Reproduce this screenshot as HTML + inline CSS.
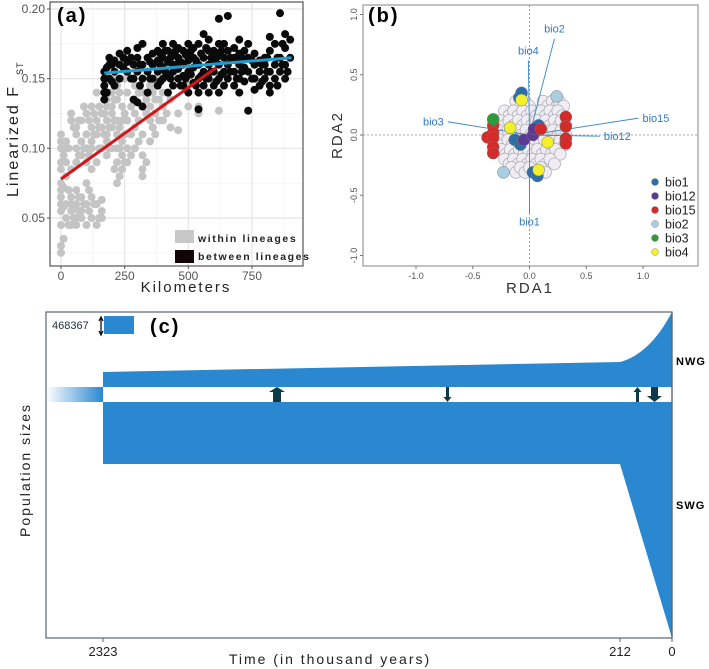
<!DOCTYPE html>
<html><head><meta charset="utf-8"><style>
html,body{margin:0;padding:0;background:#fff;}
svg{display:block;font-family:"Liberation Sans",sans-serif;}
</style></head><body>
<svg id="fig" width="709" height="669" viewBox="0 0 709 669" xmlns="http://www.w3.org/2000/svg">
<g id="pa"></g>
<g id="pb"></g>
<g id="pc"></g>
</svg>
<script>
// ---------- Panel (a) data ----------
const withinKm = [0,20,40,60,80,100,120,140,160,180,200,220,240,260,290,320,350,370,400,430,460,500,540,620,
 10,30,50,70,90,110,130,150,170,190,210,230,250,275,305,335,360,385,415];
const withinFst = [
 [0.025,0.03,0.045,0.055,0.06,0.065,0.07,0.075,0.085,0.09,0.1,0.105,0.11],
 [0.05,0.06,0.08,0.09,0.1,0.105],
 [0.045,0.055,0.06,0.065,0.085,0.12,0.125],
 [0.045,0.05,0.06,0.07,0.09,0.1,0.11,0.115],
 [0.05,0.055,0.065,0.095,0.105,0.12],
 [0.045,0.06,0.075,0.09,0.1,0.11,0.125],
 [0.05,0.065,0.085,0.1,0.105,0.115,0.13],
 [0.045,0.06,0.09,0.11,0.12,0.14],
 [0.05,0.055,0.063,0.1,0.115,0.125],
 [0.095,0.105,0.11,0.12,0.13,0.135,0.15],
 [0.1,0.115,0.125,0.13,0.14],
 [0.075,0.09,0.1,0.11,0.12,0.135,0.145],
 [0.085,0.095,0.105,0.12,0.13],
 [0.09,0.1,0.12,0.14],
 [0.1,0.115,0.125,0.135,0.145],
 [0.08,0.085,0.095,0.11,0.14,0.15],
 [0.105,0.12,0.13,0.14,0.145],
 [0.11,0.125,0.135,0.145,0.15],
 [0.12,0.13,0.14],
 [0.115,0.135],
 [0.113,0.125],
 [0.13,0.14,0.145],
 [0.125,0.13],
 [0.127,0.15],
 [0.035,0.058,0.072,0.095],
 [0.045,0.07,0.1],
 [0.05,0.058,0.115],
 [0.055,0.065,0.095,0.12],
 [0.06,0.1,0.13],
 [0.055,0.07,0.095,0.12],
 [0.06,0.11,0.125],
 [0.05,0.1,0.115,0.13],
 [0.11,0.125,0.14],
 [0.1,0.115,0.14],
 [0.085,0.12,0.135,0.15],
 [0.08,0.1,0.115,0.14],
 [0.09,0.11,0.125,0.15],
 [0.095,0.11,0.13],
 [0.105,0.12,0.14],
 [0.09,0.125,0.135],
 [0.115,0.14],
 [0.12,0.135],
 [0.125,0.14]
];
const betweenKm = [170,190,210,230,260,285,300,320,340,360,380,400,420,440,460,480,500,520,540,560,580,600,620,640,655,680,700,720,735,760,780,800,820,840,860,880,900,
 180,200,245,275,310,350,390,410,430,450,470,490,510,530,550,570,590,610,630,665,690,710,750,790,810,850,870,890];
const betweenFst = [
 [0.135,0.14,0.145,0.15,0.155],[0.15,0.16,0.165],[0.145,0.155,0.163],[0.15,0.16,0.168],
 [0.155,0.162,0.17],[0.135,0.15,0.16],[0.133,0.155,0.165,0.172],[0.13,0.15,0.16,0.175],
 [0.14,0.155,0.165],[0.15,0.16,0.168],[0.145,0.155,0.163,0.17],[0.15,0.158,0.165,0.175],
 [0.14,0.152,0.162,0.17],[0.145,0.155,0.16,0.168,0.175],[0.15,0.157,0.165,0.172],
 [0.145,0.152,0.16,0.17],[0.14,0.155,0.163,0.168,0.175],[0.147,0.158,0.165,0.172],
 [0.128,0.14,0.15,0.16,0.175],[0.145,0.155,0.165,0.182],[0.14,0.15,0.16,0.17,0.178],
 [0.145,0.155,0.163,0.17],[0.14,0.15,0.16,0.168,0.175,0.193],[0.145,0.155,0.165,0.175],
 [0.15,0.16,0.17,0.195],[0.145,0.155,0.165,0.172],[0.14,0.15,0.16,0.168,0.178],
 [0.148,0.158,0.17],[0.127,0.155,0.165,0.175],[0.142,0.15,0.16,0.168],[0.145,0.155,0.163],
 [0.15,0.16,0.165],[0.14,0.145,0.155,0.17,0.18],[0.15,0.16,0.175],[0.155,0.165,0.197],
 [0.15,0.16,0.172,0.182],[0.165,0.178],
 [0.14,0.158],[0.148,0.16],[0.158,0.165],[0.15,0.165],[0.145,0.16],[0.15,0.162],[0.148,0.16,0.168],
 [0.155,0.17],[0.15,0.165],[0.16,0.17],[0.145,0.162],[0.15,0.167],[0.153,0.17],[0.145,0.163],
 [0.152,0.168],[0.15,0.172],[0.155,0.165],[0.148,0.165],[0.153,0.17],[0.155,0.165],[0.15,0.163],
 [0.155,0.165],[0.15,0.163],[0.148,0.16],[0.155,0.165],[0.145,0.165],[0.16,0.175],[0.155]
];
const withinFitKm = [0,610];
const withinFitFst = [0.078,0.158];
const betweenFitKm = [170,905];
const betweenFitFst = [0.154,0.165];
const aXTicks = [0,250,500,750];
const aYTicks = [0.05,0.10,0.15,0.20];
const aYTickLabels = ["0.05","0.10","0.15","0.20"];

// ---------- Panel (b) data ----------
const cloudRows = [0.28,0.2,0.12,0.04,-0.04,-0.12,-0.2,-0.27];
const cloudCols = [
 [-0.12,-0.04,0.12,0.2,0.26],
 [-0.22,-0.14,-0.06,0.02,0.1,0.18,0.25],
 [-0.26,-0.18,-0.1,-0.02,0.06,0.14,0.22,0.28],
 [-0.27,-0.19,-0.11,-0.03,0.05,0.13,0.21,0.28],
 [-0.27,-0.19,-0.11,-0.03,0.05,0.13,0.21,0.27],
 [-0.25,-0.17,-0.09,-0.01,0.07,0.15,0.23],
 [-0.22,-0.14,-0.06,0.02,0.1,0.18],
 [-0.16,-0.08,0.0,0.1]
];
const bioNames = ["bio1","bio12","bio15","bio2","bio3","bio4"];
const bioColors = ["#2b6ea8","#5c3a92","#d42a2a","#a9cde3","#2e9a3a","#f3f02a"];
const bioX = [
 [-0.09,-0.07,-0.13,-0.08,0.08,0.03,0.07],
 [-0.05,0.03,0.04],
 [-0.32,-0.32,-0.37,-0.32,-0.32,-0.32,0.32,0.32,0.32,0.32,0.1],
 [0.24,-0.23],
 [-0.32],
 [-0.07,-0.17,0.16,0.08]
];
const bioY = [
 [0.31,0.35,-0.04,-0.08,0.08,-0.31,-0.34],
 [-0.04,0.0,0.05],
 [0.08,0.02,-0.02,-0.02,-0.1,-0.15,0.15,0.07,-0.03,-0.07,0.05],
 [0.32,-0.31],
 [0.13],
 [0.29,0.06,-0.06,-0.29]
];
const vecNames = ["bio2","bio4","bio3","bio15","bio12","bio1"];
const vecX = [0.22,-0.01,-0.72,0.96,0.62,0.0];
const vecY = [0.8,0.62,0.11,0.14,-0.01,-0.65];
const bTicks = [-1.0,-0.5,0.0,0.5,1.0];
const bTickLabels = ["-1.0","-0.5","0.0","0.5","1.0"];

// ---------- Panel (c) data ----------
const cTickTimes = [2323,212,0];
const nwgTop = [372,362,312];
const swgBottom = [464,464,638];

const NS="http://www.w3.org/2000/svg";
function el(parent,tag,attrs,text){const e=document.createElementNS(NS,tag);for(const k in attrs)e.setAttribute(k,attrs[k]);if(text!==undefined)e.textContent=text;parent.appendChild(e);return e;}

// ===== Panel A =====
const pa=document.getElementById('pa');
const xA=v=>61+v*(191/750);
const yA=v=>9+(0.20-v)*(209/0.15);
const aL=50,aR=303,aT=2,aB=266;
const bgA=el(pa,'rect',{x:aL,y:aT,width:aR-aL,height:aB-aT,fill:'#fff'});


[125,375,625,875].forEach(v=>{if(xA(v)<aR)el(pa,'line',{x1:xA(v),x2:xA(v),y1:aT,y2:aB,stroke:'#f3f3f3','stroke-width':0.8});});
[0.025,0.075,0.125,0.175].forEach(v=>el(pa,'line',{x1:aL,x2:aR,y1:yA(v),y2:yA(v),stroke:'#f3f3f3','stroke-width':0.8}));
aXTicks.forEach(v=>el(pa,'line',{x1:xA(v),x2:xA(v),y1:aT,y2:aB,stroke:'#e4e4e4','stroke-width':1.2}));
aYTicks.forEach(v=>el(pa,'line',{x1:aL,x2:aR,y1:yA(v),y2:yA(v),stroke:'#e4e4e4','stroke-width':1.2}));
withinKm.forEach((k,i)=>withinFst[i].forEach(f=>{
  const c=el(pa,'circle',{cx:xA(k),cy:yA(f),r:4,fill:'#c4c4c4'});
  
  
}));
betweenKm.forEach((k,i)=>betweenFst[i].forEach(f=>{
  const c=el(pa,'circle',{cx:xA(k),cy:yA(f),r:4,fill:'#0a0a0a'});
  
  
}));
const rl=el(pa,'line',{x1:xA(withinFitKm[0]),y1:yA(withinFitFst[0]),x2:xA(withinFitKm[1]),y2:yA(withinFitFst[1]),stroke:'#d0161b','stroke-width':3});


const bl=el(pa,'line',{x1:xA(betweenFitKm[0]),y1:yA(betweenFitFst[0]),x2:xA(betweenFitKm[1]),y2:yA(betweenFitFst[1]),stroke:'#1e9cd0','stroke-width':3});


el(pa,'rect',{x:aL,y:aT,width:aR-aL,height:aB-aT,fill:'none',stroke:'#555','stroke-width':1.2});
aXTicks.forEach(v=>{el(pa,'line',{x1:xA(v),x2:xA(v),y1:aB,y2:aB+3,stroke:'#555'});
  const t=el(pa,'text',{x:xA(v),y:aB+14,'font-size':12,fill:'#555','text-anchor':'middle'},String(v));
  
  });
aYTicks.forEach((v,i)=>{el(pa,'line',{x1:aL-3,x2:aL,y1:yA(v),y2:yA(v),stroke:'#555'});
  const t=el(pa,'text',{x:aL-5,y:yA(v)+4,'font-size':12,fill:'#555','text-anchor':'end'},aYTickLabels[i]);
  
  });
</script>
<script>
(function(){
const pa=document.getElementById('pa');
pa.insertAdjacentHTML('beforeend',`
<text x="57" y="22" font-size="20" font-weight="bold" letter-spacing="2">(a)</text>
<rect x="175" y="230" width="19" height="13" fill="#c8c8c8"/>
<rect x="175" y="250" width="19" height="13" fill="#120505"/>
<text x="198" y="242" font-size="10.5" font-weight="bold" letter-spacing="1.6" fill="#222">within lineages</text>
<text x="198" y="260" font-size="10.5" font-weight="bold" letter-spacing="1.6" fill="#222">between lineages</text>
<text x="186" y="292" font-size="15" text-anchor="middle" letter-spacing="2" fill="#222">Kilometers</text>
<g transform="translate(18,133) rotate(-90)">
 <text x="-8" y="0" font-size="16" text-anchor="middle" letter-spacing="2" fill="#222">Linearized F</text>
 <text x="58" y="5" font-size="9" text-anchor="start" letter-spacing="1" fill="#222">ST</text>
</g>
`);
})();

// ===== Panel B =====
(function(){
const pb=document.getElementById('pb');
const xB=v=>529.5+v*113.5;
const yB=v=>135-v*120.5;
const L=363,R=698,T=5,B=266;
el(pb,'rect',{x:L,y:T,width:R-L,height:B-T,fill:'#fff',stroke:'#999','stroke-width':1.2});
el(pb,'line',{x1:L,x2:R,y1:yB(0),y2:yB(0),stroke:'#888','stroke-dasharray':'2,2','stroke-width':0.8});
el(pb,'line',{x1:xB(0),x2:xB(0),y1:T,y2:B,stroke:'#888','stroke-dasharray':'2,2','stroke-width':0.8});
cloudRows.forEach((ry,i)=>cloudCols[i].forEach(cx=>{
  const c=el(pb,'circle',{cx:xB(cx),cy:yB(ry),r:6,fill:'#efedf3',stroke:'#a8a8b0','stroke-width':0.7});
  
  
  const c2=el(pb,'circle',{cx:xB(cx+0.04),cy:yB(ry-0.04),r:6,fill:'#efedf3',stroke:'#a8a8b0','stroke-width':0.7});
  
  
}));
vecNames.forEach((n,i)=>{
  const ln=el(pb,'line',{x1:xB(0),y1:yB(0),x2:xB(vecX[i]),y2:yB(vecY[i]),stroke:'#3b87c4','stroke-width':0.9});
  
  
});
bioNames.forEach((n,i)=>bioX[i].forEach((x,j)=>{
  const c=el(pb,'circle',{cx:xB(x),cy:yB(bioY[i][j]),r:6,fill:bioColors[i],stroke:'#777','stroke-width':0.5});
  
  
}));
vecNames.forEach((n,i)=>{
  const vx=xB(vecX[i]),vy=yB(vecY[i]);
  let tx=vx,ty=vy,anc='middle';
  if(Math.abs(vecY[i])>0.3){ty=vecY[i]>0?vy-6:vy+12;}
  else{anc=vecX[i]<0?'end':'start';tx=vecX[i]<0?vx-4:vx+4;ty=vy+4;}
  const t=el(pb,'text',{x:tx,y:ty,'font-size':11,fill:'#2f7cbf','text-anchor':anc},n);
  
  
});
bTicks.forEach((v,i)=>{
  el(pb,'line',{x1:xB(v),x2:xB(v),y1:B,y2:B+3,stroke:'#777'});
  const t=el(pb,'text',{x:xB(v),y:B+13,'font-size':9,fill:'#555','text-anchor':'middle'},bTickLabels[i]);
  
  
  el(pb,'line',{x1:L-3,x2:L,y1:yB(v),y2:yB(v),stroke:'#777'});
  const t2=el(pb,'text',{transform:`translate(${L-6},${yB(v)}) rotate(-90)`,'font-size':9,fill:'#555','text-anchor':'middle'},bTickLabels[i]);
  
  
});
bioNames.forEach((n,i)=>{
  const y=182+i*14;
  const d=el(pb,'circle',{cx:655,cy:y,r:3.5,fill:bioColors[i],stroke:'#777','stroke-width':0.4});
  
  
  const t=el(pb,'text',{x:665,y:y+4.5,'font-size':12.5,fill:'#222'},n);
  
  
});
pb.insertAdjacentHTML('beforeend',`
<text x="368" y="22" font-size="20" font-weight="bold" letter-spacing="2">(b)</text>
<text x="530" y="293" font-size="15" text-anchor="middle" letter-spacing="2" fill="#333">RDA1</text>
<text transform="translate(342,135) rotate(-90)" font-size="15" text-anchor="middle" letter-spacing="2" fill="#333">RDA2</text>`);
})();

// ===== Panel C =====
(function(){
const pc=document.getElementById('pc');
const tickPx=[103,620,672];
const xC=t=>{
  for(let i=0;i<cTickTimes.length-1;i++){const a=cTickTimes[i],b=cTickTimes[i+1];
    if(t<=a&&t>=b)return tickPx[i]+(a-t)/(a-b)*(tickPx[i+1]-tickPx[i]);}
  return tickPx[0];};
const L=46,R=672,T=312,B=638,gapT=387,gapB=402;
pc.insertAdjacentHTML('beforeend',`<defs><linearGradient id="anc" x1="0" x2="1" y1="0" y2="0"><stop offset="0" stop-color="#2a88d0" stop-opacity="0"/><stop offset="1" stop-color="#2a88d0"/></linearGradient></defs>`);
el(pc,'rect',{x:L,y:T,width:R-L,height:B-T,fill:'#fff',stroke:'#5a6470','stroke-width':1.2});
const anc=el(pc,'rect',{x:L,y:gapT,width:xC(cTickTimes[0])-L,height:gapB-gapT,fill:'url(#anc)'});


const x0=xC(cTickTimes[0]),x1=xC(cTickTimes[1]),x2=xC(cTickTimes[2]);
const nwg=el(pc,'path',{d:`M${x0},${nwgTop[0]} L${x1},${nwgTop[1]} Q${x1+30},${nwgTop[1]-8} ${x2},${nwgTop[2]} L${x2},${gapT} L${x0},${gapT} Z`,fill:'#2a88d0'});


const swg=el(pc,'path',{d:`M${x0},${gapB} L${x2},${gapB} L${x2},${swgBottom[2]} L${x1},${swgBottom[1]} L${x0},${swgBottom[0]} Z`,fill:'#2a88d0'});


el(pc,'line',{x1:R,x2:R,y1:T,y2:B,stroke:'#5a6470','stroke-width':1.2});
cTickTimes.forEach((t,i)=>{
  el(pc,'line',{x1:xC(t),x2:xC(t),y1:B,y2:B+4,stroke:'#5a6470'});
  const tx=el(pc,'text',{x:xC(t),y:B+18,'font-size':13,fill:'#222','text-anchor':'middle'},String(t));
  
  
});
pc.insertAdjacentHTML('beforeend',`
<g fill="#0d3a4a">
 <path d="M273,402 V392 H269 L277,387 L285,392 H281 V402 Z"/>
 <path d="M446,387 V397 H443.5 L447.5,402 L451.5,397 H449 V387 Z"/>
 <path d="M636,402 V392 H633.5 L637.5,387 L641.5,392 H639 V402 Z"/>
 <path d="M651,387 V396 H647 L654.5,402 L662,396 H658 V387 Z"/>
</g>
<text x="52" y="329" font-size="11" fill="#1d2d3a">468367</text>
<path d="M101,318 V334 M99,321 L101,317 L103,321 M99,331 L101,335 L103,331" stroke="#111" stroke-width="1.3" fill="none"/>
<rect x="104" y="316" width="30" height="18" fill="#2a88d0"/>
<text x="150" y="333" font-size="20" font-weight="bold" letter-spacing="2">(c)</text>
<text x="676" y="365" font-size="11" font-weight="bold" letter-spacing="1">NWG</text>
<text x="676" y="509" font-size="11" font-weight="bold" letter-spacing="1">SWG</text>
<text transform="translate(30,470) rotate(-90)" font-size="14" text-anchor="middle" letter-spacing="2" fill="#222">Population sizes</text>
<text x="330" y="664" font-size="14" text-anchor="middle" letter-spacing="2" fill="#222">Time (in thousand years)</text>`);
})();
</script>
</body></html>
